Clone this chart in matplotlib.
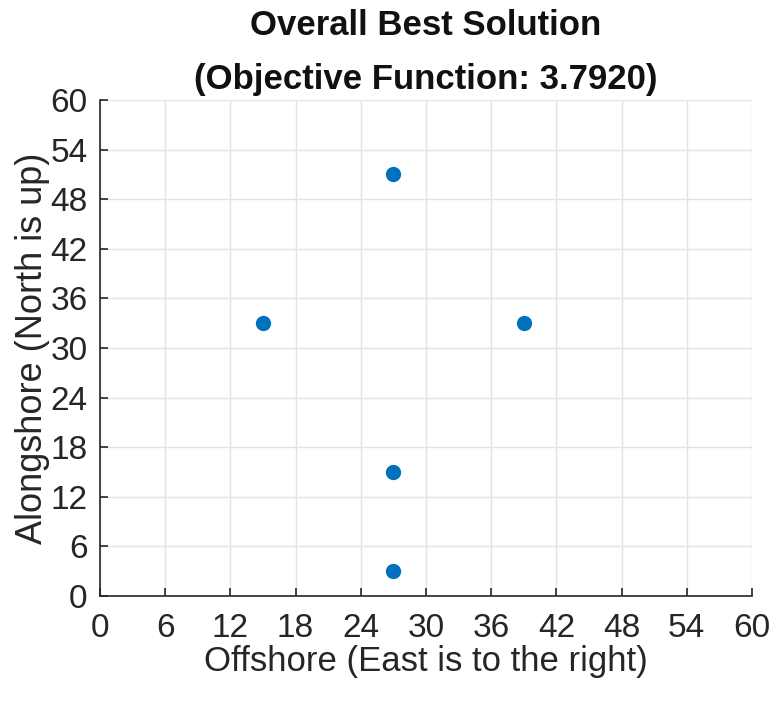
import matplotlib
matplotlib.use("Agg")
import matplotlib.pyplot as plt

plt.rcParams['font.family'] = ['Liberation Sans', 'DejaVu Sans']

# Sensor positions of the best solution
offshore = [27, 15, 39, 27, 27]
alongshore = [51, 33, 33, 15, 3]
ticks = list(range(0, 61, 6))

fig = plt.figure(figsize=(7.72, 7.04), dpi=100)
ax = fig.add_axes([0.1295, 0.1534, 0.8445, 0.7046])

ax.plot(offshore, alongshore, linestyle='none', marker='o', markersize=10,
        color='#0072BD', markeredgecolor='#0072BD')

ax.set_xlim(0, 60)
ax.set_ylim(0, 60)
ax.set_xticks(ticks)
ax.set_yticks(ticks)
ax.tick_params(direction='in', length=6, width=1.2, colors='#262626',
               labelsize=24)
ax.tick_params(axis='x', pad=12)
ax.tick_params(axis='y', pad=9)
ax.grid(True, color='#e3e3e3', linewidth=1.0)
ax.set_axisbelow(True)
for side in ('top', 'right'):
    ax.spines[side].set_visible(False)
for side in ('left', 'bottom'):
    ax.spines[side].set_color('#262626')
    ax.spines[side].set_linewidth(1.2)

ax.set_xlabel('Offshore (East is to the right)', fontsize=25, color='#262626', labelpad=1)
ax.set_ylabel('Alongshore (North is up)', fontsize=26, color='#262626', labelpad=0)
ax.set_title('Overall Best Solution\n(Objective Function: 3.7920)',
             fontsize=25, fontweight='bold', color='#111111', pad=8,
             linespacing=1.8)

fig.savefig('out.png', dpi=100, facecolor='white')
